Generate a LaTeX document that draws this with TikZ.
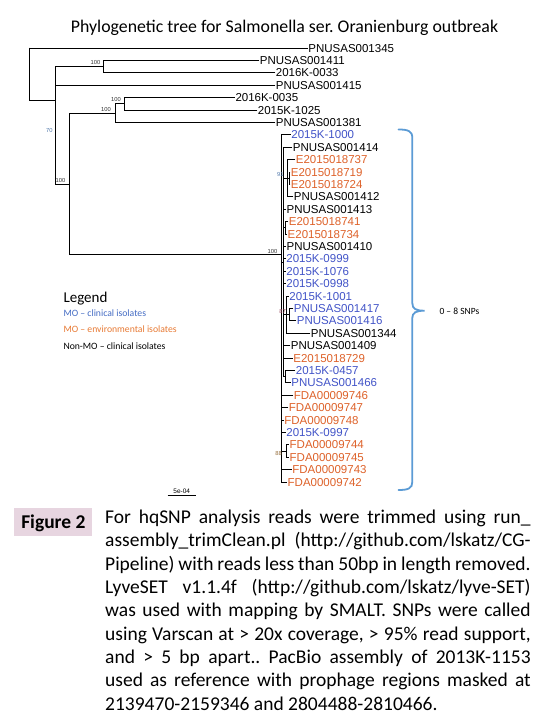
\documentclass[tikz,border=0pt]{standalone}
\usepackage{fontspec}
\setmainfont{Carlito}
\newfontfamily\arialf{Liberation Sans}
\definecolor{tblue}{RGB}{66,84,200}
\definecolor{torange}{RGB}{222,98,42}
\definecolor{lblue}{RGB}{68,108,196}
\definecolor{lorange}{RGB}{232,122,52}
\definecolor{bracecol}{RGB}{91,155,213}
\definecolor{figbox}{RGB}{231,213,224}
\definecolor{bsgray}{RGB}{50,50,50}
\definecolor{bsblue}{RGB}{80,120,170}
\definecolor{bsred}{RGB}{150,70,90}
\definecolor{bsbrown}{RGB}{150,110,60}
\newcommand\tleaf[6]{%
  \node[leaflab,text=#5] (#1) at (#3,{48+12.4*#4}) {#6};
  \draw[br] (#2 |- #1.west) -- (#1.west);
}
\begin{document}
\frenchspacing
\begin{tikzpicture}[x=1pt,y=-1pt,
  br/.style={line width=0.9pt,line cap=rect},
  leaflab/.style={anchor=west,inner xsep=0.7pt,inner ysep=0pt,text height=8.2pt,text depth=0pt,font=\arialf\fontsize{11.5}{13}\selectfont},
  bs/.style={inner sep=0pt,font=\arialf\fontsize{5.8}{6}\selectfont,text=bsgray},
  legtext/.style={anchor=base west,inner sep=0pt,font=\fontsize{9.7}{11}\selectfont},
  capline/.style={anchor=base west,inner sep=0pt,font=\fontsize{19.5}{23}\selectfont}
]
\fill[white] (0,0) rectangle (549,725);
\useasboundingbox (0,0) rectangle (549,725);

% title
\node[anchor=base,inner sep=0pt,font=\fontsize{17.8}{20}\selectfont] (title) at (284.5,32.5)
  {Phylogenetic tree for Salmonella ser. Oranienburg outbreak};

% internal nodes
\coordinate (root) at (29.5,74);
\coordinate (A) at (55.5,100);
\coordinate (B) at (103.5,66.6);
\coordinate (C) at (69,184);
\coordinate (D) at (115,113.1);
\coordinate (E) at (124.5,103.8);
\coordinate (M) at (281,254.5);
\coordinate (N) at (283.5,262);
\coordinate (P) at (287,178.2);
\coordinate (Q) at (289.3,178.2);
\coordinate (R) at (285.5,227.8);
\coordinate (S) at (286,314.6);
\coordinate (T) at (289.3,314.6);
\coordinate (U) at (285,376.6);
\coordinate (V) at (286,451);

% leaves
\tleaf{l0}{root}{307.5}{0}{black}{PNUSAS001345}
\tleaf{l1}{B}{259}{1}{black}{PNUSAS001411}
\tleaf{l2}{B}{275}{2}{black}{2016K-0033}
\tleaf{l3}{A}{275}{3}{black}{PNUSAS001415}
\tleaf{l4}{E}{234.6}{4}{black}{2016K-0035}
\tleaf{l5}{E}{257}{5}{black}{2015K-1025}
\tleaf{l6}{D}{275}{6}{black}{PNUSAS001381}
\tleaf{l7}{M}{290.5}{7}{tblue}{2015K-1000}
\tleaf{l8}{N}{292}{8}{black}{PNUSAS001414}
\tleaf{l9}{P}{295}{9}{torange}{E2015018737}
\tleaf{l10}{Q}{290}{10}{torange}{E2015018719}
\tleaf{l11}{Q}{290}{11}{torange}{E2015018724}
\tleaf{l12}{P}{293}{12}{black}{PNUSAS001412}
\tleaf{l13}{N}{285.8}{13}{black}{PNUSAS001413}
\tleaf{l14}{R}{288}{14}{torange}{E2015018741}
\tleaf{l15}{R}{286.8}{15}{torange}{E2015018734}
\tleaf{l16}{N}{285.8}{16}{black}{PNUSAS001410}
\tleaf{l17}{N}{285.5}{17}{tblue}{2015K-0999}
\tleaf{l18}{N}{285.5}{18}{tblue}{2015K-1076}
\tleaf{l19}{N}{285.5}{19}{tblue}{2015K-0998}
\tleaf{l20}{S}{288.5}{20}{tblue}{2015K-1001}
\tleaf{l21}{T}{293}{21}{tblue}{PNUSAS001417}
\tleaf{l22}{T}{296}{22}{tblue}{PNUSAS001416}
\tleaf{l23}{S}{310}{23}{black}{PNUSAS001344}
\tleaf{l24}{N}{290}{24}{black}{PNUSAS001409}
\tleaf{l25}{N}{292.5}{25}{torange}{E2015018729}
\tleaf{l26}{U}{295}{26}{tblue}{2015K-0457}
\tleaf{l27}{U}{290.5}{27}{tblue}{PNUSAS001466}
\tleaf{l28}{M}{293}{28}{torange}{FDA00009746}
\tleaf{l29}{M}{288}{29}{torange}{FDA00009747}
\tleaf{l30}{M}{283.5}{30}{torange}{FDA00009748}
\tleaf{l31}{M}{285.5}{31}{tblue}{2015K-0997}
\tleaf{l32}{V}{288.8}{32}{torange}{FDA00009744}
\tleaf{l33}{V}{288.8}{33}{torange}{FDA00009745}
\tleaf{l34}{M}{291.5}{34}{torange}{FDA00009743}
\tleaf{l35}{M}{286.8}{35}{torange}{FDA00009742}

% verticals and connections
\draw[br] (root |- l0.west) -- (root |- A) -- (A);
\draw[br] (A |- B) -- (A |- C);
\draw[br] (A |- B) -- (B);
\draw[br] (A |- C) -- (C);
\draw[br] (B |- l1.west) -- (B |- l2.west);
\draw[br] (C |- D) -- (C |- M);
\draw[br] (C |- D) -- (D);
\draw[br] (C |- M) -- (M);
\draw[br] (D |- E) -- (D |- l6.west);
\draw[br] (D |- E) -- (E);
\draw[br] (E |- l4.west) -- (E |- l5.west);
\draw[br] (M |- l7.west) -- (M |- l35.west);
\draw[br] (N |- l8.west) -- (N |- U);
\draw[br] (M |- N) -- (N);
\draw[br] (P |- l9.west) -- (P |- l12.west);
\draw[br] (N |- P) -- (P);
\draw[br] (Q |- l10.west) -- (Q |- l11.west);
\draw[br] (P |- Q) -- (Q);
\draw[br] (R |- l14.west) -- (R |- l15.west);
\draw[br] (N |- R) -- (R);
\draw[br] (S |- l20.west) -- (S |- l23.west);
\draw[br] (N |- S) -- (S);
\draw[br] (T |- l21.west) -- (T |- l22.west);
\draw[br] (S |- T) -- (T);
\draw[br] (U |- l26.west) -- (U |- l27.west);
\draw[br] (N |- U) -- (U);
\draw[br] (V |- l32.west) -- (V |- l33.west);
\draw[br] (M |- V) -- (V);

% bootstrap labels
\node[bs] (bsB) at (95.5,62.5) {100};
\node[bs] (bsE) at (116,99.3) {100};
\node[bs] (bsD) at (106,110) {100};
\node[bs,text=bsblue] (bsA) at (49.3,130.3) {70};
\node[bs] (bsC) at (60.5,180.7) {100};
\node[bs] (bsM) at (272.5,251.3) {100};
\node[bs,text=bsblue] (bsP) at (280.3,175) {91};
\node[bs,text=bsred] (bsS) at (282.5,311.7) {87};
\node[bs,text=bsbrown] (bsV) at (278.6,453) {88};

% scale bar
\node[anchor=base,inner sep=0pt,font=\arialf\fontsize{6.5}{7}\selectfont] (sbt) at (181.7,493) {5e-04};
\coordinate (sb1) at (167.7,495.5);
\coordinate (sb2) at (195.7,495.5);
\draw[line width=0.9pt] (sb1) -- (sb2);

% brace
\draw[bracecol,line width=1.8pt,line cap=round]
  (398.5,129.5) .. controls (408,129.5) and (412.3,131) .. (412.3,138)
  -- (412.3,303) .. controls (412.3,309) and (416,310.7) .. (424.5,310.7)
  .. controls (416,310.7) and (412.3,312.5) .. (412.3,318)
  -- (412.3,482) .. controls (412.3,488.5) and (408,490) .. (398.5,490);
\node[anchor=base west,inner sep=0pt,font=\fontsize{9.5}{11}\selectfont] (snp) at (439.3,314) {0 – 8 SNPs};

% legend
\node[anchor=base west,inner sep=0pt,font=\fontsize{15}{17}\selectfont] (leg) at (63.3,302.3) {Legend};
\node[legtext,text=lblue] (leg1) at (63.3,316.7) {MO – clinical isolates};
\node[legtext,text=lorange] (leg2) at (63.3,332) {MO – environmental isolates};
\node[legtext,text=black] (leg3) at (63.3,349) {Non-MO – clinical isolates};

% caption
\fill[figbox] (14,508.3) rectangle (91.7,535.7);
\node[anchor=base,inner sep=0pt,font=\bfseries\fontsize{19.5}{23}\selectfont] (fig) at (53.4,528.3) {Figure 2};
\node[capline] (cap1) at (105,523.3) {\makebox[425.5pt][s]{For hqSNP analysis reads were trimmed using run\_}};
\node[capline] (cap2) at (105,546.6) {\makebox[425.5pt][s]{assembly\_trimClean.pl (http://github.com/lskatz/CG-}};
\node[capline] (cap3) at (105,570) {\makebox[425.5pt][s]{Pipeline) with reads less than 50bp in length removed.}};
\node[capline] (cap4) at (105,593.3) {\makebox[425.5pt][s]{LyveSET v1.1.4f (http://github.com/lskatz/lyve-SET)}};
\node[capline] (cap5) at (105,616.6) {\makebox[425.5pt][s]{was used with mapping by SMALT. SNPs were called}};
\node[capline] (cap6) at (105,640) {\makebox[425.5pt][s]{using Varscan at > 20x coverage, > 95\% read support,}};
\node[capline] (cap7) at (105,663.3) {\makebox[425.5pt][s]{and > 5 bp apart.. PacBio assembly of 2013K-1153}};
\node[capline] (cap8) at (105,686.6) {\makebox[425.5pt][s]{used as reference with prophage regions masked at}};
\node[capline] (cap9) at (105,710) {2139470-2159346 and 2804488-2810466.};
\end{tikzpicture}
\end{document}
